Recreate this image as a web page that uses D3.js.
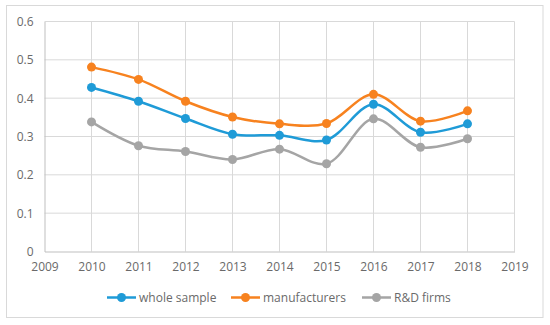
<!DOCTYPE html>
<html><head><meta charset="utf-8">
<script src="https://cdn.jsdelivr.net/npm/d3@7"></script>
<style>html,body{margin:0;padding:0;background:#fff;}svg{display:block;}</style>
</head><body>
<svg id="chart" width="550" height="325"></svg>
<script>
const years = [2010, 2011, 2012, 2013, 2014, 2015, 2016, 2017, 2018];
const wholeSample = [0.428, 0.392, 0.347, 0.306, 0.303, 0.291, 0.384, 0.311, 0.333];
const manufacturers = [0.481, 0.449, 0.392, 0.351, 0.333, 0.334, 0.410, 0.340, 0.367];
const rdFirms = [0.338, 0.276, 0.261, 0.240, 0.267, 0.229, 0.346, 0.272, 0.294];
const xTicks = [2009, 2010, 2011, 2012, 2013, 2014, 2015, 2016, 2017, 2018, 2019];
const yTicks = [0, 0.1, 0.2, 0.3, 0.4, 0.5, 0.6];
const seriesNames = ["whole sample", "manufacturers", "R&D firms"];
const seriesColors = ["#1f9bd7", "#f7821f", "#a5a5a5"];

const series = [wholeSample, manufacturers, rdFirms];
const svg = d3.select("#chart");
const font = "'Open Sans', 'Liberation Sans', sans-serif";
const textColor = "#6a6a6a";

svg.append("rect").attr("x", 6.5).attr("y", 5.5).attr("width", 536.5).attr("height", 312)
  .attr("fill", "#fff").attr("stroke", "#d9d9d9").attr("stroke-width", 1);

const x = d3.scaleLinear().domain([2009, 2019]).range([44.5, 514.5]);
const y = d3.scaleLinear().domain([0, 0.6]).range([251.5, 21.5]);

const g = svg.append("g");
// grid
g.selectAll(".hg").data(yTicks.filter(d => d > 0)).join("line")
  .attr("x1", x(2009)).attr("x2", x(2019)).attr("y1", d => y(d)).attr("y2", d => y(d))
  .attr("stroke", "#d9d9d9").attr("stroke-width", 1);
g.selectAll(".vg").data(xTicks.filter(d => d > 2009)).join("line")
  .attr("y1", y(0)).attr("y2", y(0.6)).attr("x1", d => x(d)).attr("x2", d => x(d))
  .attr("stroke", "#d9d9d9").attr("stroke-width", 1);

// axes
const xAxis = d3.axisBottom(x).tickValues(xTicks).tickFormat(d3.format("d")).tickSize(0).tickPadding(11);
const yAxis = d3.axisLeft(y).tickValues(yTicks).tickFormat(d => d === 0 ? "0" : d3.format(".1f")(d)).tickSize(0).tickPadding(11);
const gx = svg.append("g").attr("transform", `translate(0,${y(0)})`).call(xAxis);
const gy = svg.append("g").attr("transform", `translate(${x(2009)},0)`).call(yAxis);
[gx, gy].forEach(a => {
  a.select(".domain").attr("stroke", "#bfbfbf").attr("stroke-width", 1);
  a.selectAll("text").attr("fill", textColor).attr("font-size", "12px").attr("font-family", font);
});

const line = d3.line().x((d, i) => x(years[i])).y(d => y(d)).curve(d3.curveCatmullRom.alpha(0.5));

series.forEach((s, k) => {
  svg.append("path").datum(s).attr("d", line).attr("fill", "none")
    .attr("stroke", seriesColors[k]).attr("stroke-width", 2.5);
  svg.append("g").selectAll("circle").data(s).join("circle")
    .attr("cx", (d, i) => x(years[i])).attr("cy", d => y(d)).attr("r", 4.5)
    .attr("fill", seriesColors[k]);
});

// legend
const legendX = [107, 231, 362];
const lg = svg.append("g");
seriesNames.forEach((n, k) => {
  const lx = legendX[k], ly = 297.5;
  lg.append("line").attr("x1", lx).attr("x2", lx + 29).attr("y1", ly).attr("y2", ly)
    .attr("stroke", seriesColors[k]).attr("stroke-width", 2.5);
  lg.append("circle").attr("cx", lx + 14.5).attr("cy", ly).attr("r", 4.5).attr("fill", seriesColors[k]);
  lg.append("text").attr("x", lx + 32).attr("y", ly + 4).text(n)
    .attr("fill", textColor).attr("font-size", "12px").attr("font-family", font);
});
</script>
</body></html>
